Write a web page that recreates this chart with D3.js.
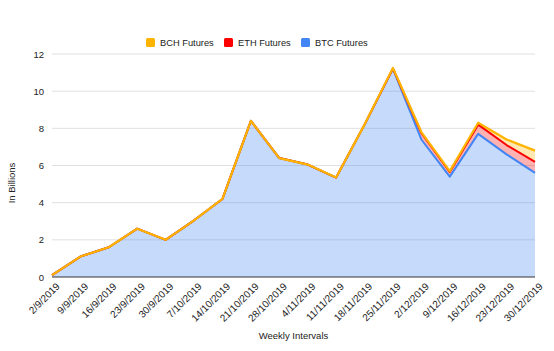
<!DOCTYPE html>
<html>
<head>
<meta charset="utf-8">
<script src="https://cdn.jsdelivr.net/npm/d3@7"></script>
<style>
  body { margin: 0; background: #fff; }
  svg { font-family: "Liberation Sans", Arial, sans-serif; }
</style>
</head>
<body>
<div class="container"></div>
<script>
const WIDTH = 554;
const HEIGHT = 351;
const LEFT = 52, RIGHT = 535, TOP = 54, BOTTOM = 277;

var weeks = ["2/9/2019","9/9/2019","16/9/2019","23/9/2019","30/9/2019","7/10/2019","14/10/2019",
    "21/10/2019","28/10/2019","4/11/2019","11/11/2019","18/11/2019","25/11/2019","2/12/2019",
    "9/12/2019","16/12/2019","23/12/2019","30/12/2019"];
var btc = [0.1,1.1,1.6,2.6,2.0,3.05,4.2,8.4,6.4,6.05,5.35,8.2,11.2,7.4,5.4,7.7,6.6,5.6];
var eth = [0,0,0,0,0,0,0,0,0,0,0,0,0.02,0.35,0.25,0.5,0.5,0.6];
var bch = [0,0,0,0,0,0,0,0,0,0,0,0,0.03,0.05,0.05,0.1,0.3,0.6];
var yTicks = [0,2,4,6,8,10,12];

var seriesNames = ["BTC Futures","ETH Futures","BCH Futures"];
var colours = {"BTC Futures":"#4285f4","ETH Futures":"#ff0000","BCH Futures":"#ffb400"};
var legendOrder = ["BCH Futures","ETH Futures","BTC Futures"];

var rows = weeks.map(function(w, i) {
    return {week: w, "BTC Futures": btc[i], "ETH Futures": eth[i], "BCH Futures": bch[i]};
});
var stacked = d3.stack().keys(seriesNames)(rows);

var svg = d3.select('.container').append('svg')
    .attr('width', WIDTH)
    .attr('height', HEIGHT);

var xScale = d3.scalePoint().domain(weeks).range([LEFT, RIGHT]);
var yScale = d3.scaleLinear().domain([0, 12]).range([BOTTOM, TOP]);

// gridlines
svg.append('g')
    .selectAll('line')
    .data(yTicks.slice(1))
    .enter().append('line')
    .attr('x1', LEFT).attr('x2', RIGHT)
    .attr('y1', function(d) { return yScale(d); })
    .attr('y2', function(d) { return yScale(d); })
    .attr('stroke', '#e0e0e0')
    .attr('stroke-width', 1);

var area = d3.area()
    .x(function(d) { return xScale(d.data.week); })
    .y0(function(d) { return yScale(d[0]); })
    .y1(function(d) { return yScale(d[1]); });

var line = d3.line()
    .x(function(d) { return xScale(d.data.week); })
    .y(function(d) { return yScale(d[1]); });

var g = svg.append('g');
g.selectAll('path.area')
    .data(stacked)
    .enter().append('path')
    .attr('class', 'area')
    .attr('d', area)
    .attr('fill', function(d) { return colours[d.key]; })
    .attr('fill-opacity', 0.3);

g.selectAll('path.line')
    .data(stacked)
    .enter().append('path')
    .attr('class', 'line')
    .attr('d', line)
    .attr('fill', 'none')
    .attr('stroke', function(d) { return colours[d.key]; })
    .attr('stroke-width', function(d) { return d.key == "BCH Futures" ? 2.2 : 2; })
    .attr('stroke-linejoin', 'round');

// baseline
svg.append('line')
    .attr('x1', LEFT).attr('x2', RIGHT)
    .attr('y1', yScale(0)).attr('y2', yScale(0))
    .attr('stroke', '#333')
    .attr('stroke-width', 1);

// y axis labels
var yAxis = d3.axisLeft(yScale).tickValues(yTicks).tickSize(0).tickPadding(8);
var yg = svg.append('g')
    .attr('transform', 'translate(' + LEFT + ',0)')
    .call(yAxis);
yg.select('.domain').remove();
yg.selectAll('text').attr('font-size', 9.5).attr('fill', '#222').attr('font-family', null);

// x axis labels
var xAxis = d3.axisBottom(xScale).tickSize(0).tickPadding(0);
var xg = svg.append('g')
    .attr('transform', 'translate(3,' + (BOTTOM + 5) + ')')
    .call(xAxis);
xg.select('.domain').remove();
xg.selectAll('text')
    .attr('font-size', 10)
    .attr('fill', '#222')
    .attr('font-family', null)
    .attr('text-anchor', 'end')
    .attr('dy', '0.7em')
    .attr('transform', 'rotate(-45)');

// axis titles
svg.append('text')
    .attr('x', (LEFT + RIGHT) / 2)
    .attr('y', 339)
    .attr('text-anchor', 'middle')
    .attr('font-size', 9.5)
    .attr('fill', '#222')
    .text('Weekly Intervals');

svg.append('text')
    .attr('transform', 'translate(15,183) rotate(-90)')
    .attr('text-anchor', 'middle')
    .attr('font-size', 9.5)
    .attr('fill', '#222')
    .text('In Billions');

// legend
var legendX = [146, 224, 301];
var lg = svg.append('g');
var items = lg.selectAll('g')
    .data(legendOrder)
    .enter().append('g')
    .attr('transform', function(d, i) { return 'translate(' + legendX[i] + ',38)'; });
items.append('rect')
    .attr('width', 9).attr('height', 9)
    .attr('rx', 1.5)
    .attr('fill', function(d) { return colours[d]; });
items.append('text')
    .attr('x', 14).attr('y', 8.3)
    .attr('font-size', 9.3)
    .attr('fill', '#222')
    .text(function(d) { return d; });
</script>
</body>
</html>
